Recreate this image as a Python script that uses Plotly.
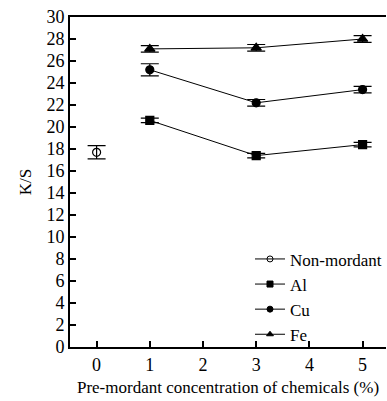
import plotly.graph_objects as go

x_non = [0]
y_non = [17.7]
e_non = [0.6]

x_conc = [1, 3, 5]
y_al = [20.6, 17.4, 18.4]
e_al = [0.2, 0.2, 0.2]
y_cu = [25.2, 22.2, 23.4]
e_cu = [0.55, 0.3, 0.3]
y_fe = [27.1, 27.2, 28.0]
e_fe = [0.3, 0.3, 0.3]

series = [
    ("Non-mordant", x_non, y_non, e_non, "circle-open"),
    ("Al", x_conc, y_al, e_al, "square"),
    ("Cu", x_conc, y_cu, e_cu, "circle"),
    ("Fe", x_conc, y_fe, e_fe, "triangle-up"),
]

fig = go.Figure()
for name, xs, ys, es, sym in series:
    fig.add_trace(go.Scatter(
        x=xs, y=ys, name=name, mode="lines+markers", showlegend=False,
        line=dict(color="black", width=1),
        marker=dict(symbol=sym, size=9 if sym == "triangle-up" else 8, color="black",
                    line=dict(color="black", width=1.2)),
        error_y=dict(type="data", array=es, visible=True, color="black", thickness=1.2, width=9),
    ))
for name, xs, ys, es, sym in series:
    fig.add_trace(go.Scatter(
        x=[None], y=[None], name=name, mode="lines+markers",
        line=dict(color="black", width=1),
        marker=dict(symbol=sym, size=6, color="black", line=dict(color="black", width=1)),
    ))

fam = "Liberation Serif, Times New Roman, serif"
fig.update_layout(
    width=387, height=401,
    margin=dict(l=70, r=0, t=17, b=54),
    paper_bgcolor="white", plot_bgcolor="white",
    font=dict(family=fam, size=18, color="black"),
    showlegend=True,
    legend=dict(x=0.57, y=0.32, xanchor="left", yanchor="top",
                bgcolor="rgba(0,0,0,0)", font=dict(family=fam, size=17, color="black"),
                tracegroupgap=0, itemwidth=30),
    xaxis=dict(range=[-0.5, 5.44], tickvals=[0, 1, 2, 3, 4, 5],
               tickfont=dict(family=fam, size=18, color="black"),
               ticks="inside", ticklen=6, tickwidth=1.5, tickcolor="black",
               showline=True, linecolor="black", linewidth=2, mirror=True,
               showgrid=False, zeroline=False,
               title=dict(text="Pre-mordant concentration of chemicals (%)", standoff=8,
                          font=dict(family=fam, size=17, color="black"))),
    yaxis=dict(range=[0, 30], tickvals=list(range(0, 31, 2)),
               tickfont=dict(family=fam, size=18, color="black"),
               ticks="inside", ticklen=6, tickwidth=1.5, tickcolor="black",
               showline=True, linecolor="black", linewidth=2,
               showgrid=False, zeroline=False,
               title=dict(text="K/S", standoff=10,
                          font=dict(family=fam, size=17, color="black"))),
)
fig.write_html("out.html")
